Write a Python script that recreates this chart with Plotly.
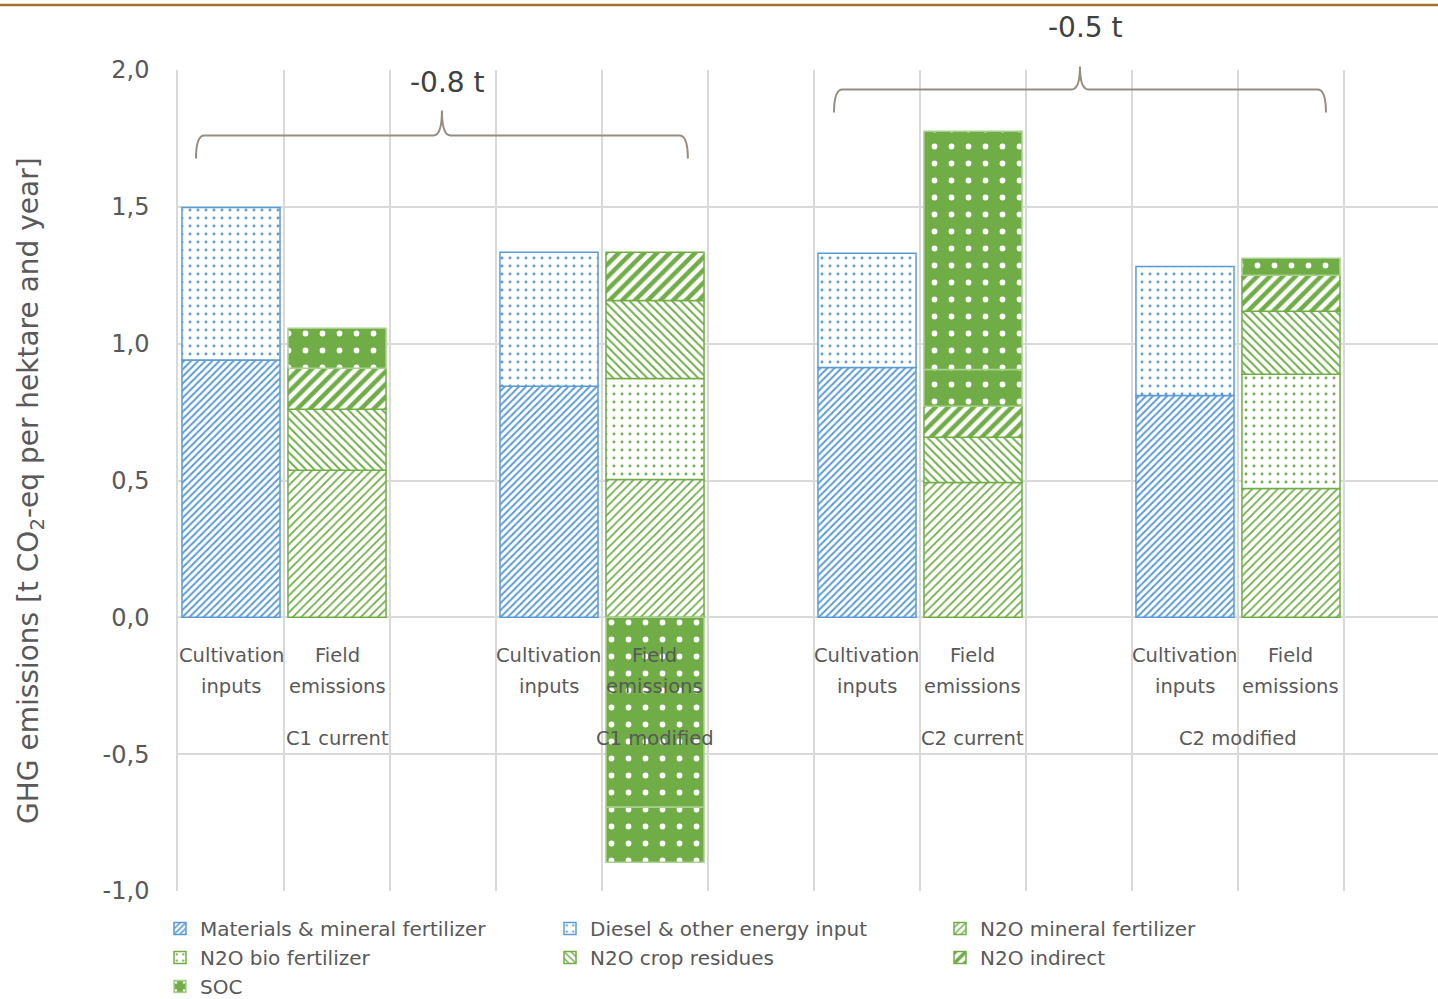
import plotly.graph_objects as go

# ---- data -------------------------------------------------------------
groups = ["C1 current", "C1 modified", "C2 current", "C2 modified"]
group_spans = [3, 3, 3, 2]          # category slots occupied by each group
bar_names = [["Cultivation", "inputs"], ["Field", "emissions"]]

# Cultivation inputs [t CO2-eq / ha / a]
materials = [0.94, 0.844, 0.913, 0.811]
diesel = [0.558, 0.490, 0.417, 0.471]

# Field emissions [t CO2-eq / ha / a]
n2o_mineral = [0.537, 0.504, 0.493, 0.471]
n2o_bio = [None, 0.369, None, 0.417]
n2o_crop = [0.223, 0.285, 0.165, 0.230]
n2o_indirect = [0.150, 0.176, 0.113, 0.132]
soc = [0.146, -0.694, 0.135, 0.062]
soc_part2 = [None, -0.201, 0.870, None]

y_ticks = [-1.0, -0.5, 0.0, 0.5, 1.0, 1.5, 2.0]
y_ticktext = ["-1,0", "-0,5", "0,0", "0,5", "1,0", "1,5", "2,0"]

savings = ["-0.8 t", "-0.5 t"]

# ---- styling ----------------------------------------------------------
BLUE = "#5B9BD5"
GREEN = "#70AD47"
TEXT = "#595959"
GRID = "#D9D9D9"
FONT = "DejaVu Sans"

starts = []
s = 0
for span in group_spans:
    starts.append(s)
    s += span
cult_x = [st for st in starts]
field_x = [st + 1 for st in starts]
group_center = [st + (span - 1) / 2 for st, span in zip(starts, group_spans)]

BAR_W = 0.925

fig = go.Figure()


def add_bar(name, x, y, color, shape, size, solidity, bg="white", fg=None,
            line_color=None, showlegend=True):
    fig.add_trace(go.Bar(
        name=name, x=x, y=y, width=BAR_W, showlegend=showlegend,
        marker=dict(
            color=bg,
            line=dict(color=line_color or color, width=1.5),
            pattern=dict(shape=shape, fgcolor=fg or color, bgcolor=bg,
                         size=size, solidity=solidity, fillmode="replace"),
        ),
        hoverinfo="name+y",
    ))


add_bar("Materials & mineral fertilizer", cult_x, materials, BLUE, "/", 5, 0.4)
add_bar("Diesel & other energy input", cult_x, diesel, BLUE, ".", 8, 0.1)
add_bar("N2O mineral fertilizer", field_x, n2o_mineral, GREEN, "/", 6, 0.3)
add_bar("N2O bio fertilizer", field_x, n2o_bio, GREEN, ".", 8, 0.1)
add_bar("N2O crop residues", field_x, n2o_crop, GREEN, "\\", 6, 0.32)
add_bar("N2O indirect", field_x, n2o_indirect, GREEN, "/", 9, 0.5)
add_bar("SOC", field_x, soc, GREEN, ".", 17, 0.09, bg=GREEN, fg="white",
        line_color="#A9D18E")
add_bar("SOC", field_x, soc_part2, GREEN, ".", 17, 0.09, bg=GREEN, fg="white",
        line_color="#A9D18E", showlegend=False)

annotations = []
# category labels under the zero line
for xs, words in ((cult_x, bar_names[0]), (field_x, bar_names[1])):
    for xv in xs:
        for k, w in enumerate(words):
            annotations.append(dict(
                x=xv, y=0, xref="x", yref="y", text=w, showarrow=False,
                xanchor="center", yanchor="middle", yshift=-38 - 31 * k,
                font=dict(family=FONT, size=19.5, color=TEXT)))
for g, xc in zip(groups, group_center):
    annotations.append(dict(
        x=xc, y=0, xref="x", yref="y", text=g, showarrow=False,
        xanchor="center", yanchor="middle", yshift=-121,
        font=dict(family=FONT, size=19.5, color=TEXT)))

# y axis title
annotations.append(dict(
    x=-0.117, y=0.488, xref="paper", yref="paper", textangle=-90,
    text="GHG emissions [t CO<sub>2</sub>-eq per hektare and year]",
    showarrow=False, xanchor="center", yanchor="middle",
    font=dict(family=FONT, size=28, color=TEXT)))

# braces marking the savings between current and modified systems
Y0, Y1 = -1.0, 2.0


def py(v):
    return (v - Y0) / (Y1 - Y0)


braces = [
    dict(x0=-0.33, x1=4.31, ends=1.677, bar=1.761, tip=1.852, label_y=1.953),
    dict(x0=5.689, x1=10.33, ends=1.845, bar=1.929, tip=2.013, label_y=2.154),
]
shapes = []
for b, txt in zip(braces, savings):
    x0, x1 = b["x0"], b["x1"]
    xm = (x0 + x1) / 2
    dx = 0.08
    ye, yb, yt = py(b["ends"]), py(b["bar"]), py(b["tip"])
    path = (f"M {x0},{ye} Q {x0},{yb} {x0 + dx},{yb} L {xm - dx},{yb} "
            f"Q {xm},{yb} {xm},{yt} Q {xm},{yb} {xm + dx},{yb} "
            f"L {x1 - dx},{yb} Q {x1},{yb} {x1},{ye}")
    shapes.append(dict(type="path", path=path, xref="x", yref="paper",
                       line=dict(color="#968C80", width=2)))
    annotations.append(dict(
        x=xm + 0.05, y=py(b["label_y"]), xref="x", yref="paper", text=txt,
        showarrow=False, xanchor="center", yanchor="middle",
        font=dict(family=FONT, size=28, color="#404040")))

# thin rule across the top of the page
shapes.append(dict(type="line", xref="paper", yref="paper",
                   x0=-0.1413, x1=1.0, y0=1.0792, y1=1.0792,
                   line=dict(color="#A86F2C", width=2.5)))

fig.update_layout(
    width=1438, height=999,
    margin=dict(l=178, r=0, t=70, b=108),
    paper_bgcolor="white", plot_bgcolor="white",
    barmode="relative",
    font=dict(family=FONT, color=TEXT),
    xaxis=dict(range=[-0.5, 11.387], tickmode="linear", tick0=-0.5, dtick=1,
               showticklabels=False, showgrid=True, gridcolor=GRID,
               gridwidth=1.5, zeroline=False, ticks=""),
    yaxis=dict(range=[Y0, Y1], tickmode="array", tickvals=y_ticks,
               ticktext=y_ticktext, showgrid=True, gridcolor=GRID,
               gridwidth=1.5, zeroline=True, zerolinecolor=GRID,
               zerolinewidth=1.5, showline=True, linecolor=GRID,
               linewidth=1.5, ticks="", ticklabelstandoff=22,
               tickfont=dict(family=FONT, size=24, color=TEXT)),
    legend=dict(orientation="h", xref="container", yref="container",
                x=160 / 1438, y=1 - 909 / 999, xanchor="left", yanchor="top",
                entrywidth=345, entrywidthmode="pixels", traceorder="normal",
                font=dict(family=FONT, size=20, color=TEXT),
                bgcolor="rgba(0,0,0,0)"),
    annotations=annotations,
    shapes=shapes,
)

fig.write_html("out.html")
